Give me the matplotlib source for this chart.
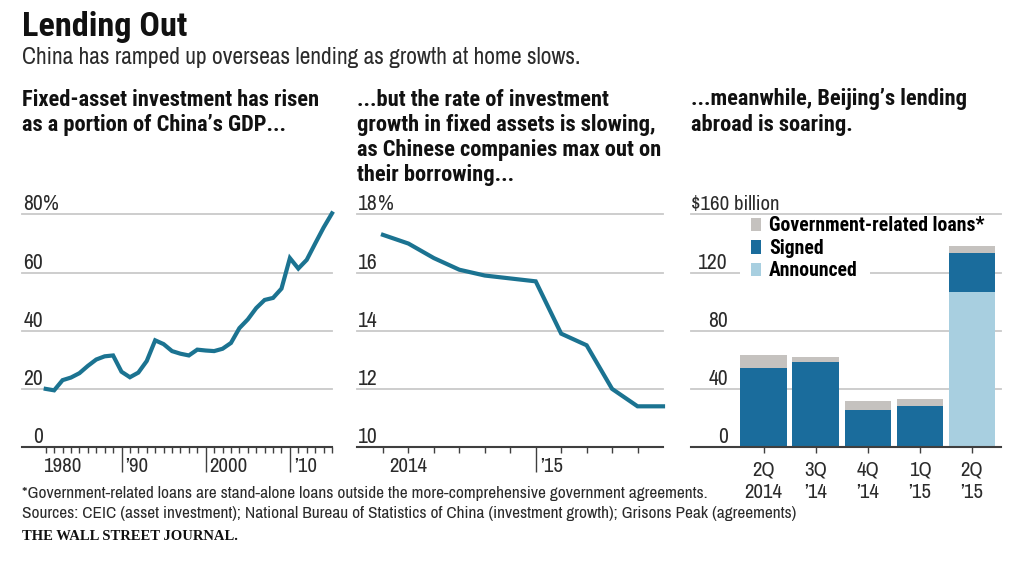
import matplotlib
matplotlib.use('Agg')
import matplotlib.pyplot as plt
import numpy as np

W, H = 1024, 563
NARROW = ['Archivo Narrow', 'Liberation Sans', 'DejaVu Sans']
BOLD = ['Roboto Condensed', 'Roboto', 'DejaVu Sans']
LINE = '#1b7391'
GRID = '#c9c9c9'
AXIS = '#3f3f3f'
TXT = '#2b2b2b'

# Fixed-asset investment, % of GDP
gdp_years = list(range(1980, 2015))
gdp_share = [20, 19.5, 23, 23.9, 25.4, 27.9, 30.1, 31.2, 31.5, 25.9, 24, 25.6,
             29.6, 36.7, 35.4, 33, 32.1, 31.5, 33.5, 33.2, 33, 33.8, 35.8, 40.9,
             43.9, 47.8, 50.6, 51.3, 54.5, 65, 61.4, 64.4, 70, 75.5, 80.4]
gdp_major = [1989, 1999, 2009]
gdp_yticks = [0, 20, 40, 60, 80]
gdp_ylabels = ['0', '20', '40', '60', '80']

# Investment growth
growth_pos = list(range(12))
growth_rate = [17.3, 17.0, 16.5, 16.1, 15.9, 15.8, 15.7, 13.9, 13.5, 12.0, 11.4, 11.4]
growth_ticks = [0, 1, 2, 3, 4, 5, 7, 8, 9, 10]
growth_major = [6]
growth_yticks = [10, 12, 14, 16, 18]
growth_ylabels = ['10', '12', '14', '16', '18']

# Overseas lending, $ billion
quarters = ['2Q\n2014', '3Q\n’14', '4Q\n’14', '1Q\n’15', '2Q\n’15']
announced = [0, 0, 0, 0, 106.7]
signed = [54.6, 58.3, 25.7, 28, 27]
gov_loans = [8.9, 3.7, 5.7, 5, 4.8]
loan_yticks = [0, 40, 80, 120, 160]
loan_ylabels = ['0', '40', '80', '120']


def make_ax(left, right, top, bottom):
    ax = fig.add_axes([left / W, 1 - bottom / H, (right - left) / W, (bottom - top) / H])
    for s in ['top', 'left', 'right']:
        ax.spines[s].set_visible(False)
    ax.spines['bottom'].set_color(AXIS)
    ax.spines['bottom'].set_linewidth(1.5)
    ax.patch.set_alpha(0)
    ax.tick_params(axis='y', left=False, labelleft=False)
    ax.grid(True, axis='y', color=GRID, linewidth=1.3, clip_on=False)
    ax.set_axisbelow(True)
    return ax


def ylabels(ax, vals, labels, px):
    for v, l in zip(vals, labels):
        ax.annotate(l, xy=(0, v), xycoords=ax.get_yaxis_transform(), xytext=(px, 4),
                    textcoords='offset pixels', ha='right', va='baseline',
                    fontsize=15.5, color=TXT, family=NARROW, annotation_clip=False)


def xlabel(ax, x, label, ha='center', dx=0):
    ax.annotate(label, xy=(x, 0), xycoords=ax.get_xaxis_transform(), xytext=(dx, -25),
                textcoords='offset pixels', ha=ha, va='baseline',
                fontsize=15, color=TXT, family=NARROW, annotation_clip=False)


def ftext(x, y, s, **kw):
    fig.text(x / W, 1 - y / H, s, va='baseline', family=kw.pop('family', NARROW),
             color=kw.pop('color', '#111111'), **kw)


fig = plt.figure(figsize=(W / 100, H / 100), dpi=100, facecolor='white')

# headers
ftext(22, 36, 'Lending Out', fontsize=24.7, fontweight='bold', family=BOLD)
ftext(22, 64.5, 'China has ramped up overseas lending as growth at home slows.', fontsize=16.9, color=TXT)
for i, s in enumerate(['Fixed-asset investment has risen', 'as a portion of China’s GDP...']):
    ftext(22, 105.5 + i * 25.3, s, fontsize=16.2, fontweight='bold', family=BOLD)
for i, s in enumerate(['...but the rate of investment', 'growth in fixed assets is slowing,',
                       'as Chinese companies max out on', 'their borrowing...']):
    ftext(357, 105.5 + i * 25.3, s, fontsize=16.2, fontweight='bold', family=BOLD)
for i, s in enumerate(['...meanwhile, Beijing’s lending', 'abroad is soaring.']):
    ftext(691, 105.5 + i * 25.3, s, fontsize=16.2, fontweight='bold', family=BOLD)

# panel 1
ax1 = make_ax(22, 332, 214.5, 447)
ax1.plot(gdp_years, gdp_share, color=LINE, linewidth=3, solid_joinstyle='miter', clip_on=False)
ax1.set_xlim(2014 - 310 / 8.42, 2014)
ax1.set_ylim(0, 80)
ax1.set_yticks(gdp_yticks)
ax1.set_xticks(gdp_major)
ax1.set_xticks([y for y in gdp_years if y not in gdp_major], minor=True)
ax1.tick_params(axis='x', which='major', length=18, width=1, color=AXIS, labelbottom=False)
ax1.tick_params(axis='x', which='minor', length=4, width=1, color=AXIS)
ylabels(ax1, gdp_yticks, gdp_ylabels, 21)
ax1.annotate('%', xy=(0, 80), xycoords=ax1.get_yaxis_transform(), xytext=(21, 4),
             textcoords='offset pixels', va='baseline', fontsize=15.5, color=TXT, family=NARROW)
xlabel(ax1, 1982, '1980')
xlabel(ax1, 1989, '’90', ha='left', dx=4)
xlabel(ax1, 1999, '2000', ha='left', dx=4)
xlabel(ax1, 2009, '’10', ha='left', dx=4)

# panel 2
ax2 = make_ax(357, 663, 214.5, 447)
ax2.plot(growth_pos, growth_rate, color=LINE, linewidth=3, solid_joinstyle='miter', clip_on=False)
ax2.set_xlim(-26 / 25.5, 11)
ax2.set_ylim(10, 18)
ax2.set_yticks(growth_yticks)
ax2.set_xticks(growth_major)
ax2.set_xticks(growth_ticks, minor=True)
ax2.tick_params(axis='x', which='major', length=18, width=1, color=AXIS, labelbottom=False)
ax2.tick_params(axis='x', which='minor', length=4, width=1, color=AXIS)
ylabels(ax2, growth_yticks, growth_ylabels, 21)
ax2.annotate('%', xy=(0, 18), xycoords=ax2.get_yaxis_transform(), xytext=(21, 4),
             textcoords='offset pixels', va='baseline', fontsize=15.5, color=TXT, family=NARROW)
xlabel(ax2, 1, '2014')
xlabel(ax2, 6, '’15', ha='left', dx=4)

# panel 3
ax3 = make_ax(691, 1001, 214.5, 447)
pos = np.arange(len(quarters))
b1 = ax3.bar(pos, announced, width=0.896, color='#a8cfe0', zorder=2)
b2 = ax3.bar(pos, signed, width=0.896, bottom=announced, color='#1a6c9c', zorder=2)
b3 = ax3.bar(pos, gov_loans, width=0.896, bottom=np.add(announced, signed), color='#c5c2bf', zorder=2)
ax3.set_xlim(-72.7 / 52.1, 4 + 29 / 52.1)
ax3.set_ylim(0, 160)
ax3.set_yticks(loan_yticks)
ax3.set_xticks(pos)
ax3.set_xticklabels(quarters, fontsize=15, color=TXT, family=NARROW, linespacing=1.2)
ax3.tick_params(axis='x', length=4, width=1, color=AXIS, pad=6)
ylabels(ax3, loan_yticks[:-1], loan_ylabels, 37)
ax3.annotate('$160 billion', xy=(0, 160), xycoords=ax3.get_yaxis_transform(), xytext=(0, 4),
             textcoords='offset pixels', va='baseline', fontsize=15, color=TXT, family=NARROW)
# gap in the 120 gridline behind the legend
ax3.axhspan(114, 126, xmin=49 / 310, xmax=179 / 310, color='white', zorder=1.5, linewidth=0)
leg = ax3.legend([b3, b2, b1], ['Government-related loans*', 'Signed', 'Announced'],
                 loc='upper left', bbox_to_anchor=(59.7 / 310, 1 - 2 / 232.5),
                 prop={'family': BOLD, 'weight': 'bold', 'size': 14.2},
                 frameon=False, borderpad=0, borderaxespad=0, labelspacing=0.17,
                 handlelength=0.52, handleheight=0.65, handletextpad=0.4)

# footer
ftext(22, 498, '*Government-related loans are stand-alone loans outside the more-comprehensive government agreements.',
      fontsize=12.47, color=TXT)
ftext(22, 518, 'Sources: CEIC (asset investment); National Bureau of Statistics of China (investment growth); Grisons Peak (agreements)',
      fontsize=12.47, color=TXT)
ftext(22, 540, 'THE WALL STREET JOURNAL.', fontsize=10.5, fontweight='bold',
      family=['Liberation Serif', 'DejaVu Serif'])

fig.savefig('out.png', dpi=100)
